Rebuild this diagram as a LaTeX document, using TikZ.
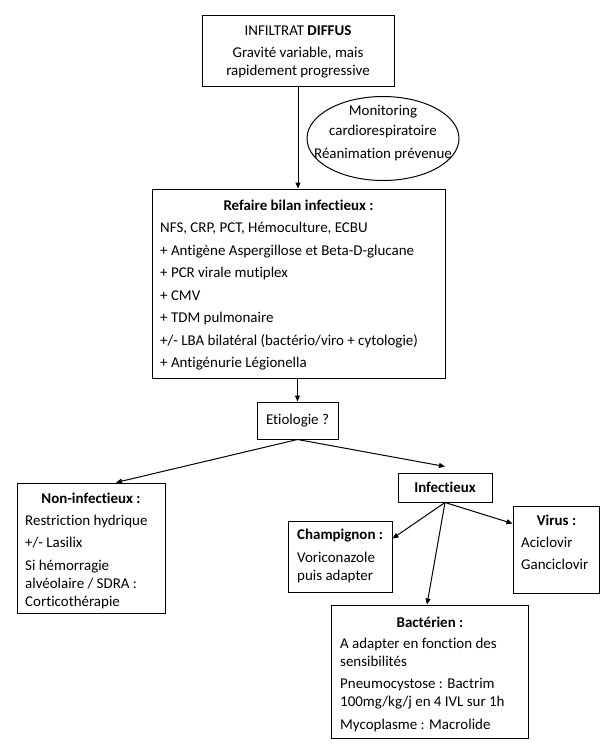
\documentclass[tikz,border=0pt]{standalone}
\usepackage{fontspec}
\setmainfont{Carlito}[Ligatures=NoCommon]
\usetikzlibrary{shapes.geometric,arrows.meta}
\begin{document}
\begin{tikzpicture}[x=1pt,y=-1pt,
  every node/.style={font=\fontsize{14.95}{18}\selectfont},
  boxs/.style={draw, line width=1pt, inner sep=0pt},
  txt/.style={inner sep=0pt, align=left},
  ttl/.style={inner sep=0pt, anchor=base, font=\fontsize{14.95}{18}\selectfont\bfseries},
  arr/.style={line width=1pt, -{Triangle[length=6pt,width=5pt]}}]
\useasboundingbox (0,0) rectangle (615,747);
% boxes
\node[boxs, minimum width=192pt, minimum height=71pt] (top) at (298,50.5) {};
\node[boxs, ellipse, minimum width=152pt, minimum height=84pt] (ell) at (383,138.5) {};
\node[boxs, minimum width=293pt, minimum height=189pt] (bilan) at (298.5,283.5) {};
\node[boxs, minimum width=81pt, minimum height=37pt] (etio) at (297.5,420.5) {Etiologie ?};
\node[boxs, minimum width=148pt, minimum height=130pt] (noninf) at (91,548) {};
\node[boxs, minimum width=94pt, minimum height=29pt, font=\fontsize{14.95}{18}\selectfont\bfseries] (inf) at (445,487.5) {Infectieux};
\node[boxs, minimum width=104pt, minimum height=71pt] (champ) at (340,556.5) {};
\node[boxs, minimum width=86pt, minimum height=87pt] (virus) at (556,549.5) {};
\node[boxs, minimum width=197pt, minimum height=133pt] (bact) at (429.5,671.5) {};
% texts
\node[txt, align=center, anchor=north] (toptxt) at (298,22.4) {\strut INFILTRAT \textbf{DIFFUS}\\[4pt] Gravité variable, mais\\ rapidement progressive};
\node[txt, align=center, anchor=north] (elltxt) at (383,102.4) {\strut Monitoring\\[2pt] cardiorespiratoire\\[5pt] Réanimation prévenue};
\node[ttl] (bilanttl) at (298.5,210) {Refaire bilan infectieux :};
\node[txt, anchor=north west] (bilantxt) at (160,219.9) {\strut NFS, CRP, PCT, Hémoculture, ECBU\\[4.5pt]
+ Antigène Aspergillose et Beta-D-glucane\\[4.5pt]
+ PCR virale mutiplex\\[4.5pt]
+ CMV\\[4.5pt]
+ TDM pulmonaire\\[4.5pt]
+/- LBA bilatéral (bactério/viro + cytologie)\\[4.5pt]
+ Antigénurie Légionella};
\node[ttl] (noninfttl) at (91,503) {Non-infectieux :};
\node[txt, anchor=north west] (noninftxt) at (25,512.4) {\strut Restriction hydrique\\[4.5pt]
+/- Lasilix\\[4.5pt]
Si hémorragie\\ alvéolaire / SDRA :\\ Corticothérapie};
\node[ttl, anchor=base west] (champttl) at (297,539) {Champignon :};
\node[txt, anchor=north west] (champtxt) at (297,549.4) {\strut Voriconazole\\ puis adapter};
\node[ttl] (virusttl) at (556.5,525) {Virus :};
\node[txt, anchor=north west] (virustxt) at (521,534.4) {\strut Aciclovir\\[4.5pt] Ganciclovir};
\node[ttl] (bactttl) at (430,627) {Bactérien :};
\node[txt, anchor=north west] (bacttxt) at (340,635.4) {\strut A adapter en fonction des\\ sensibilités\\[4.5pt]
Pneumocystose : Bactrim\\ 100mg/kg/j en 4 IVL sur 1h\\[4.5pt]
Mycoplasme : Macrolide};
% connectors
\draw[arr] (top.south) -- (top.south |- bilan.north);
\draw[arr] (etio.north |- bilan.south) -- (etio.north);
\draw[arr] (etio.south) -- ([xshift=25pt]noninf.north);
\draw[arr] (etio.south) -- ([yshift=6pt]inf.north);
\draw[arr] (inf.south) -- ([yshift=18pt]champ.east);
\draw[arr] (inf.south) -- ([yshift=26pt]virus.west);
\draw[arr] (inf.south) -- ([xshift=-2.5pt]bact.north);
\end{tikzpicture}
\end{document}
